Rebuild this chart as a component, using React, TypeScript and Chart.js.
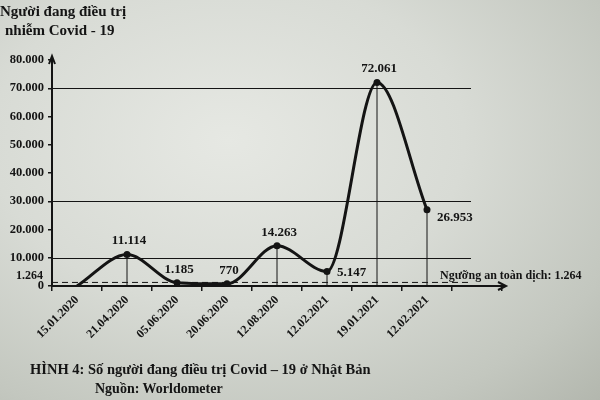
import React, { useRef, useEffect } from 'react';
import { Chart, registerables } from 'chart.js';

Chart.register(...registerables);

const DATES = ['15.01.2020', '21.04.2020', '05.06.2020', '20.06.2020', '12.08.2020', '12.02.2021', '19.01.2021', '12.02.2021'];
const PATIENTS = [0, 11114, 1185, 770, 14263, 5147, 72061, 26953];
const Y_TICKS = [0, 10000, 20000, 30000, 40000, 50000, 60000, 70000, 80000];
const REF_LINES = [10000, 30000, 70000];
const SAFE_LIMIT = 1264;
const LABEL_SIDE = ['none', 'top', 'top', 'top', 'top', 'right', 'top', 'rightLow'];

const INK = '#141414';
const SERIF = '"Liberation Serif", "DejaVu Serif", serif';

const fmt = (v: number) => v.toString().replace(/\B(?=(\d{3})+(?!\d))/g, '.');

const overlay = {
  id: 'overlay',
  afterDatasetsDraw(chart: Chart) {
    const { ctx, chartArea } = chart;
    const x = chart.scales.x;
    const y = chart.scales.y;
    const meta = chart.getDatasetMeta(0);
    const lineEnd = x.getPixelForValue(DATES.length - 1) + 44;
    ctx.save();

    // reference lines
    ctx.strokeStyle = INK;
    ctx.lineWidth = 1;
    REF_LINES.forEach((v) => {
      const py = Math.round(y.getPixelForValue(v)) + 0.5;
      ctx.beginPath();
      ctx.moveTo(chartArea.left, py);
      ctx.lineTo(lineEnd, py);
      ctx.stroke();
    });

    // safe threshold dashed
    const sy = y.getPixelForValue(SAFE_LIMIT);
    ctx.setLineDash([6, 4]);
    ctx.beginPath();
    ctx.moveTo(chartArea.left, sy);
    ctx.lineTo(lineEnd, sy);
    ctx.stroke();
    ctx.setLineDash([]);

    // drop lines
    meta.data.forEach((pt: any, i: number) => {
      if (PATIENTS[i] < 2000) return;
      ctx.beginPath();
      ctx.moveTo(pt.x, pt.y);
      ctx.lineTo(pt.x, chartArea.bottom);
      ctx.stroke();
    });

    // value labels
    ctx.fillStyle = INK;
    ctx.font = `bold 13px ${SERIF}`;
    meta.data.forEach((pt: any, i: number) => {
      const side = LABEL_SIDE[i];
      if (side === 'none') return;
      const txt = fmt(PATIENTS[i]);
      if (side === 'top') {
        ctx.textAlign = 'center';
        ctx.textBaseline = 'bottom';
        ctx.fillText(txt, pt.x + 2, pt.y - 7);
      } else {
        ctx.textAlign = 'left';
        ctx.textBaseline = 'middle';
        ctx.fillText(txt, pt.x + 10, pt.y + (side === 'rightLow' ? 8 : 1));
      }
    });

    // 1.264 tick label + threshold caption
    ctx.textAlign = 'right';
    ctx.textBaseline = 'middle';
    ctx.font = `bold 12px ${SERIF}`;
    ctx.fillText(fmt(SAFE_LIMIT), chartArea.left - 9, sy - 7);
    ctx.textAlign = 'left';
    ctx.textBaseline = 'bottom';
    ctx.fillText(`Ngưỡng an toàn dịch: ${fmt(SAFE_LIMIT)}`, x.getPixelForValue(DATES.length - 1) + 13, sy - 1);

    // axis arrows
    ctx.lineWidth = 2;
    ctx.beginPath();
    ctx.moveTo(chartArea.left, chartArea.top);
    ctx.lineTo(chartArea.left, chartArea.top - 4);
    ctx.moveTo(chartArea.left - 3, chartArea.top + 4);
    ctx.lineTo(chartArea.left, chartArea.top - 4);
    ctx.lineTo(chartArea.left + 3, chartArea.top + 4);
    ctx.moveTo(chartArea.right, chartArea.bottom);
    ctx.lineTo(chartArea.right + 4, chartArea.bottom);
    ctx.moveTo(chartArea.right - 4, chartArea.bottom - 4);
    ctx.lineTo(chartArea.right + 4, chartArea.bottom);
    ctx.lineTo(chartArea.right - 4, chartArea.bottom + 4);
    ctx.stroke();
    ctx.restore();
  },
};

const App: React.FC = () => {
  const canvasRef = useRef<HTMLCanvasElement>(null);

  useEffect(() => {
    if (!canvasRef.current) return;
    const chart = new Chart(canvasRef.current, {
      type: 'line',
      data: {
        labels: [...DATES, ''],
        datasets: [{
          data: PATIENTS,
          borderColor: INK,
          borderWidth: 3,
          cubicInterpolationMode: 'monotone',
          pointRadius: PATIENTS.map((_, i) => (i === 0 ? 0 : 3.5)),
          pointBackgroundColor: INK,
          pointBorderWidth: 0,
        }],
      },
      options: {
        responsive: true,
        maintainAspectRatio: false,
        animation: false,
        layout: { padding: { left: 0, top: 60, right: 98, bottom: 0 } },
        plugins: { legend: { display: false }, tooltip: { enabled: false } },
        scales: {
          x: {
            offset: true,
            grid: { display: true, drawOnChartArea: false, offset: true, tickLength: 5, color: INK, lineWidth: 1.5 },
            border: { color: INK, width: 2 },
            ticks: { color: INK, font: { family: SERIF, size: 12, weight: 'bold' }, minRotation: 45, maxRotation: 45, padding: 2 },
            afterFit: (s: any) => { s.height = 114; },
          },
          y: {
            min: 0,
            max: 80000,
            afterBuildTicks: (s: any) => { s.ticks = Y_TICKS.map((v) => ({ value: v })); },
            grid: { drawOnChartArea: false, tickLength: 4, color: INK, lineWidth: 1.5 },
            border: { color: INK, width: 2 },
            ticks: { color: INK, font: { family: SERIF, size: 12.5, weight: 'bold' }, padding: 4, callback: (v: any) => fmt(Number(v)) },
            afterFit: (s: any) => { s.width = 52; },
          },
        },
      },
      plugins: [overlay],
    });
    return () => { chart.destroy(); };
  }, []);

  const textStyle: React.CSSProperties = { position: 'absolute', fontFamily: SERIF, fontWeight: 'bold', color: INK, whiteSpace: 'nowrap', lineHeight: 1 };

  return (
    <div style={{
      position: 'fixed', left: 0, top: 0, width: 600, height: 400, overflow: 'hidden',
      background: 'radial-gradient(ellipse at 38% 35%, #e6e8e3 0%, #d8dbd5 45%, #c3c7bf 80%, #b3b7ae 100%)',
    }}>
      <div style={{ ...textStyle, left: 0, top: 4, fontSize: 15 }}>Người đang điều trị</div>
      <div style={{ ...textStyle, left: 5, top: 23, fontSize: 15 }}>nhiễm Covid - 19</div>
      <div style={{ position: 'absolute', left: 0, top: 0, width: 600, height: 400 }}>
        <canvas ref={canvasRef} />
      </div>
      <div style={{ ...textStyle, left: 30, top: 362, fontSize: 14.5 }}>HÌNH 4: Số người đang điều trị Covid – 19 ở Nhật Bản</div>
      <div style={{ ...textStyle, left: 95, top: 382, fontSize: 14 }}>Nguồn: Worldometer</div>
    </div>
  );
};

export default App;
